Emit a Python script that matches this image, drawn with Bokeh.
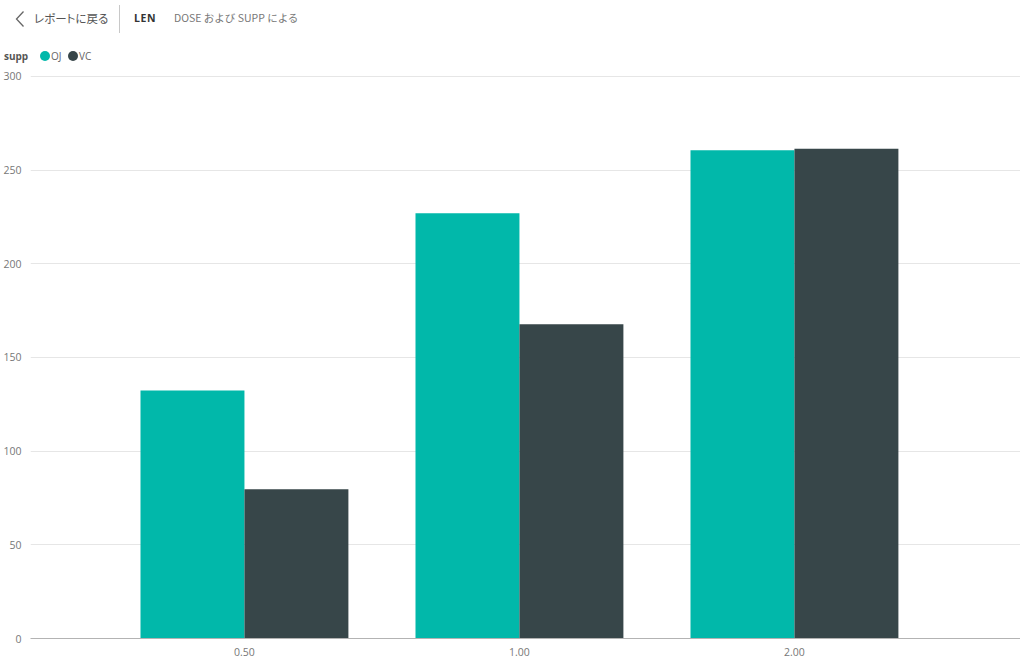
from bokeh.plotting import figure
from bokeh.models import Range1d, FixedTicker, Div
from bokeh.layouts import column
from bokeh.embed import file_html
from bokeh.resources import INLINE

# ---- data ----
doses = ["0.50", "1.00", "2.00"]
oj_len = [132.3, 227.0, 260.6]
vc_len = [79.7, 167.7, 261.4]
y_ticks = [0, 50, 100, 150, 200, 250, 300]
series_names = ["OJ", "VC"]
series_colors = ["#01B8AA", "#374649"]
header_back = "レポートに戻る"
header_measure = "LEN"
header_by = "DOSE および SUPP による"
legend_title = "supp"

BAR_W = 0.378
pos = list(range(len(doses)))

JP = "'Noto Sans CJK JP', 'Noto Sans', sans-serif"
OS = "'Open Sans', 'Noto Sans', sans-serif"


def span(left, cy, text, size, color, font, weight="normal", extra=""):
    return (f'<span style="position:absolute;left:{left}px;top:{cy - 8}px;height:16px;'
            f'line-height:16px;white-space:nowrap;font-family:{font};font-size:{size};'
            f'color:{color};font-weight:{weight};{extra}">{text}</span>')


def dot(cx, cy, color):
    return (f'<span style="position:absolute;left:{cx - 5}px;top:{cy - 5}px;width:10px;'
            f'height:10px;border-radius:50%;background:{color};"></span>')


header_html = (
    '<div style="position:relative;width:1020px;height:67px;">'
    '<svg style="position:absolute;left:0;top:0" width="40" height="40">'
    '<polyline points="23.5,11.5 16.5,19 23.5,26.5" fill="none" stroke="#666666" stroke-width="1.3"/></svg>'
    + span(34, 18, header_back, "11.5px", "#555555", JP, extra="font-feature-settings:'palt';")
    + '<span style="position:absolute;left:119px;top:5px;width:1px;height:28px;background:#c8c8c8;"></span>'
    + span(134, 18, header_measure, "10.5px", "#333333", OS, "bold", "letter-spacing:0.6px;")
    + span(174, 18, header_by, "10.5px", "#777777", JP)
    + span(4, 56, legend_title, "10px", "#555555", OS, "bold")
    + dot(45, 56, series_colors[0])
    + span(51, 56, series_names[0], "10px", "#666666", OS)
    + dot(73, 56, series_colors[1])
    + span(79, 56, series_names[1], "10px", "#666666", OS)
    + '</div>'
)
header = Div(text=header_html, width=1020, height=67, margin=0)

p = figure(width=1020, height=597, output_backend="svg", toolbar_location=None,
           x_range=Range1d(-0.778, 2.822), y_range=Range1d(0, 301),
           min_border_left=30, min_border_right=0, min_border_top=7, min_border_bottom=26,
           margin=0)
p.outline_line_color = None
p.background_fill_color = "white"
p.border_fill_color = "white"

p.vbar(x=[i - BAR_W / 2 for i in pos], top=oj_len, width=BAR_W,
       fill_color=series_colors[0], line_color=None)
p.vbar(x=[i + BAR_W / 2 for i in pos], top=vc_len, width=BAR_W,
       fill_color=series_colors[1], line_color=None)

# axes
p.xaxis.ticker = FixedTicker(ticks=pos)
p.xaxis.major_label_overrides = {i: d for i, d in zip(pos, doses)}
p.xaxis.axis_line_color = "#b3b3b3"
p.xaxis.major_tick_line_color = None
p.xaxis.minor_tick_line_color = None
p.xaxis.major_tick_out = 0
p.xaxis.major_tick_in = 0
p.xaxis.major_label_standoff = 9
p.xaxis.major_label_text_font = "Open Sans"
p.xaxis.major_label_text_font_size = "10.5px"
p.xaxis.major_label_text_color = "#777777"

p.yaxis.ticker = FixedTicker(ticks=y_ticks)
p.yaxis.axis_line_color = None
p.yaxis.major_tick_line_color = None
p.yaxis.minor_tick_line_color = None
p.yaxis.major_tick_out = 0
p.yaxis.major_tick_in = 0
p.yaxis.major_label_standoff = 9
p.yaxis.major_label_text_font = "Open Sans"
p.yaxis.major_label_text_font_size = "10.5px"
p.yaxis.major_label_text_color = "#777777"

p.xgrid.grid_line_color = None
p.ygrid.grid_line_color = "#e6e6e6"
p.ygrid.ticker = FixedTicker(ticks=y_ticks)

layout = column(header, p, spacing=0, margin=0)

open("out.html", "w").write(file_html(layout, INLINE))
